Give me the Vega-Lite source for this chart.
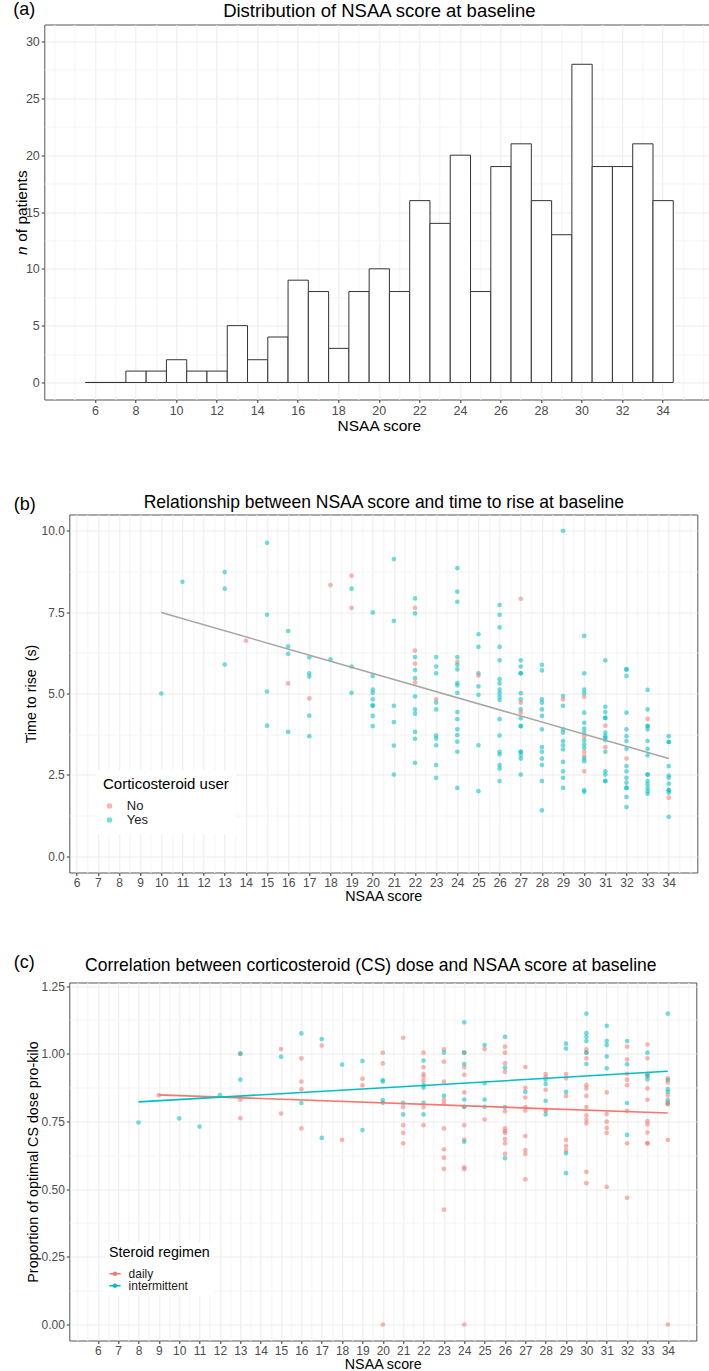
{
  "$schema": "https://vega.github.io/schema/vega-lite/v6.json",
  "background": "white",
  "padding": {"left": 5.3, "top": 0.5, "right": 0, "bottom": 0},
  "autosize": {"type": "pad"},
  "config": {
    "font": "Liberation Sans",
    "view": {"stroke": "#555555", "strokeWidth": 1},
    "axis": {"labelFont": "Liberation Sans", "labelFontSize": 12, "labelColor": "#4D4D4D", "labelPadding": 2, "tickColor": "#333333", "tickSize": 3, "tickWidth": 1, "domain": false, "titleFont": "Liberation Sans", "titleFontWeight": "normal", "titleColor": "#000000", "gridColor": "#EBEBEB", "gridWidth": 1},
    "title": {"font": "Liberation Sans", "fontWeight": "normal", "color": "#000000"},
    "legend": {"labelFont": "Liberation Sans", "titleFont": "Liberation Sans", "titleFontWeight": "normal", "titleColor": "#000000", "labelColor": "#1A1A1A"}
  },
  "resolve": {"scale": {"color": "independent"}, "legend": {"color": "independent"}},
  "columns": 1,
  "align": "none",
  "spacing": 49,
  "concat": [
    {
      "spacing": 0,
      "hconcat": [
        {"width": 1, "height": 1, "view": {"stroke": null}, "data": {"values": [{"k": 0}]}, "mark": {"type": "point", "opacity": 0}, "encoding": {}},
        {
          "width": 669,
          "height": 375,
          "title": {"text": "(a)", "anchor": "start", "frame": "group", "fontSize": 18, "baseline": "alphabetic", "dx": -31, "offset": -32},
          "data": {"values": [
            {"score": 6, "n": 0}, {"score": 7, "n": 0}, {"score": 8, "n": 1}, {"score": 9, "n": 1}, {"score": 10, "n": 2},
            {"score": 11, "n": 1}, {"score": 12, "n": 1}, {"score": 13, "n": 5}, {"score": 14, "n": 2}, {"score": 15, "n": 4},
            {"score": 16, "n": 9}, {"score": 17, "n": 8}, {"score": 18, "n": 3}, {"score": 19, "n": 8}, {"score": 20, "n": 10},
            {"score": 21, "n": 8}, {"score": 22, "n": 16}, {"score": 23, "n": 14}, {"score": 24, "n": 20}, {"score": 25, "n": 8},
            {"score": 26, "n": 19}, {"score": 27, "n": 21}, {"score": 28, "n": 16}, {"score": 29, "n": 13}, {"score": 30, "n": 28},
            {"score": 31, "n": 19}, {"score": 32, "n": 19}, {"score": 33, "n": 21}, {"score": 34, "n": 16}
          ]},
          "layer": [
            {
              "mark": {"type": "bar", "fill": "white", "stroke": "#333333", "strokeWidth": 1, "binSpacing": 0},
              "encoding": {
                "x": {"field": "score", "type": "quantitative", "bin": {"step": 1, "extent": [5.5, 34.5], "nice": false},
                  "scale": {"domain": [3.5, 36.5], "nice": false, "zero": false},
                  "axis": {"values": [6, 8, 10, 12, 14, 16, 18, 20, 22, 24, 26, 28, 30, 32, 34], "format": "d", "labelFontSize": 12.5, "grid": true,
                    "title": "NSAA score", "titleFontSize": 15.5, "titleX": 334.5, "titleY": 30.5, "titleAlign": "center", "titleBaseline": "alphabetic"}},
                "y": {"field": "n", "aggregate": "sum", "type": "quantitative",
                  "scale": {"domain": [-1.5, 31.5], "nice": false, "zero": false},
                  "axis": {"values": [0, 5, 10, 15, 20, 25, 30], "format": "d", "labelFontSize": 12.5, "grid": true,
                    "title": "of patients", "titleFontSize": 15.5, "titleAngle": 270, "titleX": -17.8, "titleY": 181.1, "titleAlign": "center", "titleBaseline": "alphabetic"}}
              }
            },
            {
              "mark": {"type": "point", "opacity": 0},
              "encoding": {
                "x": {"field": "score", "type": "quantitative", "scale": {"domain": [3.5, 36.5], "nice": false, "zero": false},
                  "axis": {"orient": "top", "values": [4, 5, 7, 9, 11, 13, 15, 17, 19, 21, 23, 25, 27, 29, 31, 33, 35, 36], "grid": true, "gridColor": "#F4F4F4", "labels": false, "ticks": false, "domain": false, "minExtent": 0, "maxExtent": 0,
                    "title": "Distribution of NSAA score at baseline", "titleFontSize": 18.5, "titleX": 334.5, "titleY": -8.5, "titleAlign": "center", "titleBaseline": "alphabetic", "titleAngle": 0}},
                "y": {"field": "n", "type": "quantitative", "scale": {"domain": [-1.5, 31.5], "nice": false, "zero": false},
                  "axis": {"orient": "right", "values": [2.5, 7.5, 12.5, 17.5, 22.5, 27.5], "grid": true, "gridColor": "#F4F4F4", "labels": false, "ticks": false, "domain": false, "minExtent": 0, "maxExtent": 0,
                    "title": "n", "titleFontStyle": "italic", "titleFontSize": 15.5, "titleAngle": 270, "titleX": -686.8, "titleY": 225.6, "titleAlign": "center", "titleBaseline": "alphabetic"}}
              }
            }
          ],
          "resolve": {"axis": {"x": "independent", "y": "independent"}}
        }
      ]
    },
    {
      "spacing": 0,
      "hconcat": [
        {"width": 1, "height": 1, "view": {"stroke": null}, "data": {"values": [{"k": 0}]}, "mark": {"type": "point", "opacity": 0}, "encoding": {}},
        {
          "width": 628,
          "height": 358,
          "title": {"text": " ", "anchor": "start", "frame": "group", "fontSize": 18, "baseline": "alphabetic", "offset": -22.8},
          "data": {"values": [
            {"s":10,"t":5.0,"u":"Yes"},{"s":11,"t":8.43,"u":"Yes"},
            {"s":13,"t":8.73,"u":"Yes"},{"s":13,"t":8.22,"u":"Yes"},{"s":13,"t":5.89,"u":"Yes"},
            {"s":14,"t":6.62,"u":"No"},
            {"s":15,"t":9.63,"u":"Yes"},{"s":15,"t":7.42,"u":"Yes"},{"s":15,"t":5.06,"u":"Yes"},{"s":15,"t":4.01,"u":"Yes"},
            {"s":16,"t":6.92,"u":"Yes"},{"s":16,"t":6.45,"u":"Yes"},{"s":16,"t":6.22,"u":"Yes"},{"s":16,"t":5.31,"u":"No"},{"s":16,"t":3.82,"u":"Yes"},
            {"s":17,"t":6.11,"u":"Yes"},{"s":17,"t":5.62,"u":"Yes"},{"s":17,"t":5.52,"u":"Yes"},{"s":17,"t":4.85,"u":"No"},{"s":17,"t":4.32,"u":"Yes"},{"s":17,"t":3.69,"u":"Yes"},
            {"s":18,"t":8.33,"u":"No"},{"s":18,"t":6.05,"u":"Yes"},
            {"s":19,"t":8.62,"u":"No"},{"s":19,"t":8.22,"u":"Yes"},{"s":19,"t":7.63,"u":"No"},{"s":19,"t":5.83,"u":"Yes"},{"s":19,"t":5.02,"u":"Yes"},
            {"s":20,"t":7.49,"u":"Yes"},{"s":20,"t":5.54,"u":"Yes"},{"s":20,"t":5.12,"u":"Yes"},{"s":20,"t":5.02,"u":"Yes"},{"s":20,"t":4.82,"u":"Yes"},{"s":20,"t":4.63,"u":"Yes"},{"s":20,"t":4.63,"u":"Yes"},{"s":20,"t":4.31,"u":"Yes"},{"s":20,"t":4.0,"u":"Yes"},
            {"s":21,"t":9.13,"u":"Yes"},{"s":21,"t":7.23,"u":"Yes"},{"s":21,"t":4.62,"u":"Yes"},{"s":21,"t":4.12,"u":"Yes"},{"s":21,"t":3.4,"u":"Yes"},{"s":21,"t":2.51,"u":"Yes"},
            {"s":22,"t":7.92,"u":"Yes"},{"s":22,"t":7.63,"u":"No"},{"s":22,"t":7.46,"u":"Yes"},{"s":22,"t":6.32,"u":"No"},{"s":22,"t":6.12,"u":"Yes"},{"s":22,"t":5.92,"u":"No"},{"s":22,"t":5.72,"u":"Yes"},{"s":22,"t":5.47,"u":"Yes"},{"s":22,"t":5.34,"u":"No"},{"s":22,"t":4.91,"u":"Yes"},{"s":22,"t":4.51,"u":"Yes"},{"s":22,"t":4.38,"u":"Yes"},{"s":22,"t":3.82,"u":"Yes"},{"s":22,"t":3.61,"u":"Yes"},{"s":22,"t":2.87,"u":"Yes"},
            {"s":23,"t":6.12,"u":"Yes"},{"s":23,"t":5.83,"u":"Yes"},{"s":23,"t":5.62,"u":"Yes"},{"s":23,"t":4.82,"u":"No"},{"s":23,"t":4.72,"u":"Yes"},{"s":23,"t":4.51,"u":"Yes"},{"s":23,"t":3.71,"u":"Yes"},{"s":23,"t":3.62,"u":"Yes"},{"s":23,"t":3.41,"u":"Yes"},{"s":23,"t":2.8,"u":"Yes"},{"s":23,"t":2.41,"u":"Yes"},
            {"s":24,"t":8.85,"u":"Yes"},{"s":24,"t":8.13,"u":"Yes"},{"s":24,"t":7.82,"u":"Yes"},{"s":24,"t":6.12,"u":"Yes"},{"s":24,"t":5.97,"u":"No"},{"s":24,"t":5.88,"u":"Yes"},{"s":24,"t":5.74,"u":"Yes"},{"s":24,"t":5.32,"u":"Yes"},{"s":24,"t":5.25,"u":"Yes"},{"s":24,"t":5.02,"u":"Yes"},{"s":24,"t":4.43,"u":"Yes"},{"s":24,"t":4.21,"u":"Yes"},{"s":24,"t":3.9,"u":"Yes"},{"s":24,"t":3.72,"u":"Yes"},{"s":24,"t":3.52,"u":"Yes"},{"s":24,"t":3.21,"u":"Yes"},{"s":24,"t":2.1,"u":"Yes"},
            {"s":25,"t":6.82,"u":"Yes"},{"s":25,"t":6.43,"u":"Yes"},{"s":25,"t":5.62,"u":"Yes"},{"s":25,"t":5.55,"u":"No"},{"s":25,"t":5.22,"u":"Yes"},{"s":25,"t":4.96,"u":"Yes"},{"s":25,"t":3.41,"u":"Yes"},{"s":25,"t":2.0,"u":"Yes"},
            {"s":26,"t":7.72,"u":"Yes"},{"s":26,"t":7.42,"u":"Yes"},{"s":26,"t":7.03,"u":"Yes"},{"s":26,"t":6.43,"u":"Yes"},{"s":26,"t":6.02,"u":"Yes"},{"s":26,"t":5.44,"u":"Yes"},{"s":26,"t":5.31,"u":"Yes"},{"s":26,"t":5.12,"u":"Yes"},{"s":26,"t":5.01,"u":"Yes"},{"s":26,"t":4.9,"u":"Yes"},{"s":26,"t":4.8,"u":"Yes"},{"s":26,"t":4.21,"u":"Yes"},{"s":26,"t":3.71,"u":"Yes"},{"s":26,"t":3.21,"u":"Yes"},{"s":26,"t":3.13,"u":"Yes"},{"s":26,"t":2.8,"u":"Yes"},{"s":26,"t":2.69,"u":"Yes"},{"s":26,"t":2.31,"u":"Yes"},
            {"s":27,"t":7.91,"u":"No"},{"s":27,"t":6.02,"u":"Yes"},{"s":27,"t":5.83,"u":"Yes"},{"s":27,"t":5.62,"u":"Yes"},{"s":27,"t":5.62,"u":"Yes"},{"s":27,"t":5.01,"u":"Yes"},{"s":27,"t":4.82,"u":"Yes"},{"s":27,"t":4.72,"u":"No"},{"s":27,"t":4.51,"u":"Yes"},{"s":27,"t":4.41,"u":"No"},{"s":27,"t":4.24,"u":"Yes"},{"s":27,"t":4.0,"u":"Yes"},{"s":27,"t":4.0,"u":"Yes"},{"s":27,"t":3.21,"u":"Yes"},{"s":27,"t":3.21,"u":"Yes"},{"s":27,"t":3.11,"u":"Yes"},{"s":27,"t":3.0,"u":"Yes"},{"s":27,"t":2.51,"u":"Yes"},
            {"s":28,"t":5.88,"u":"Yes"},{"s":28,"t":5.71,"u":"Yes"},{"s":28,"t":4.82,"u":"Yes"},{"s":28,"t":4.72,"u":"Yes"},{"s":28,"t":4.51,"u":"Yes"},{"s":28,"t":4.31,"u":"Yes"},{"s":28,"t":3.9,"u":"Yes"},{"s":28,"t":3.35,"u":"Yes"},{"s":28,"t":3.21,"u":"Yes"},{"s":28,"t":3.0,"u":"Yes"},{"s":28,"t":2.8,"u":"Yes"},{"s":28,"t":2.31,"u":"Yes"},{"s":28,"t":1.41,"u":"Yes"},
            {"s":29,"t":10.0,"u":"Yes"},{"s":29,"t":4.92,"u":"Yes"},{"s":29,"t":4.82,"u":"No"},{"s":29,"t":4.62,"u":"Yes"},{"s":29,"t":3.9,"u":"Yes"},{"s":29,"t":3.8,"u":"Yes"},{"s":29,"t":3.54,"u":"Yes"},{"s":29,"t":3.41,"u":"Yes"},{"s":29,"t":3.28,"u":"Yes"},{"s":29,"t":2.9,"u":"Yes"},{"s":29,"t":2.61,"u":"Yes"},{"s":29,"t":2.41,"u":"Yes"},{"s":29,"t":2.1,"u":"Yes"},
            {"s":30,"t":6.77,"u":"Yes"},{"s":30,"t":5.62,"u":"Yes"},{"s":30,"t":5.12,"u":"Yes"},{"s":30,"t":5.01,"u":"Yes"},{"s":30,"t":4.9,"u":"No"},{"s":30,"t":4.41,"u":"Yes"},{"s":30,"t":4.1,"u":"Yes"},{"s":30,"t":3.92,"u":"Yes"},{"s":30,"t":3.8,"u":"Yes"},{"s":30,"t":3.69,"u":"No"},{"s":30,"t":3.57,"u":"Yes"},{"s":30,"t":3.44,"u":"Yes"},{"s":30,"t":3.33,"u":"Yes"},{"s":30,"t":3.21,"u":"No"},{"s":30,"t":3.08,"u":"No"},{"s":30,"t":3.0,"u":"Yes"},{"s":30,"t":2.92,"u":"Yes"},{"s":30,"t":2.61,"u":"No"},{"s":30,"t":2.03,"u":"Yes"},{"s":30,"t":1.98,"u":"Yes"},
            {"s":31,"t":6.02,"u":"Yes"},{"s":31,"t":4.59,"u":"Yes"},{"s":31,"t":4.43,"u":"Yes"},{"s":31,"t":4.25,"u":"Yes"},{"s":31,"t":4.25,"u":"Yes"},{"s":31,"t":4.01,"u":"No"},{"s":31,"t":3.8,"u":"Yes"},{"s":31,"t":3.69,"u":"Yes"},{"s":31,"t":3.64,"u":"Yes"},{"s":31,"t":3.57,"u":"Yes"},{"s":31,"t":3.35,"u":"No"},{"s":31,"t":3.21,"u":"Yes"},{"s":31,"t":2.61,"u":"Yes"},{"s":31,"t":2.51,"u":"Yes"},{"s":31,"t":2.31,"u":"Yes"},{"s":31,"t":2.31,"u":"Yes"},
            {"s":32,"t":5.74,"u":"Yes"},{"s":32,"t":5.74,"u":"Yes"},{"s":32,"t":5.54,"u":"Yes"},{"s":32,"t":4.41,"u":"Yes"},{"s":32,"t":3.9,"u":"Yes"},{"s":32,"t":3.69,"u":"Yes"},{"s":32,"t":3.54,"u":"Yes"},{"s":32,"t":3.3,"u":"Yes"},{"s":32,"t":3.0,"u":"No"},{"s":32,"t":2.77,"u":"Yes"},{"s":32,"t":2.61,"u":"Yes"},{"s":32,"t":2.41,"u":"Yes"},{"s":32,"t":2.26,"u":"Yes"},{"s":32,"t":2.1,"u":"Yes"},{"s":32,"t":2.1,"u":"Yes"},{"s":32,"t":1.82,"u":"Yes"},{"s":32,"t":1.51,"u":"Yes"},
            {"s":33,"t":5.11,"u":"Yes"},{"s":33,"t":4.51,"u":"Yes"},{"s":33,"t":4.22,"u":"No"},{"s":33,"t":4.0,"u":"Yes"},{"s":33,"t":4.0,"u":"Yes"},{"s":33,"t":3.9,"u":"Yes"},{"s":33,"t":3.54,"u":"Yes"},{"s":33,"t":3.3,"u":"Yes"},{"s":33,"t":3.1,"u":"Yes"},{"s":33,"t":2.51,"u":"Yes"},{"s":33,"t":2.51,"u":"Yes"},{"s":33,"t":2.31,"u":"Yes"},{"s":33,"t":2.21,"u":"Yes"},{"s":33,"t":2.1,"u":"Yes"},{"s":33,"t":2.0,"u":"Yes"},{"s":33,"t":1.92,"u":"Yes"},
            {"s":34,"t":3.69,"u":"Yes"},{"s":34,"t":3.51,"u":"Yes"},{"s":34,"t":3.51,"u":"Yes"},{"s":34,"t":2.77,"u":"Yes"},{"s":34,"t":2.48,"u":"Yes"},{"s":34,"t":2.41,"u":"Yes"},{"s":34,"t":2.23,"u":"Yes"},{"s":34,"t":2.03,"u":"Yes"},{"s":34,"t":2.03,"u":"Yes"},{"s":34,"t":1.95,"u":"Yes"},{"s":34,"t":1.8,"u":"No"},{"s":34,"t":1.21,"u":"Yes"}
          ]},
          "layer": [
            {
              "mark": {"type": "circle", "size": 22, "opacity": 0.55},
              "encoding": {
                "x": {"field": "s", "type": "quantitative", "scale": {"domain": [5.65, 35.35], "nice": false, "zero": false},
                  "axis": {"values": [6,7,8,9,10,11,12,13,14,15,16,17,18,19,20,21,22,23,24,25,26,27,28,29,30,31,32,33,34], "format": "d", "grid": true,
                    "title": "NSAA score", "titleFontSize": 14.3, "titleX": 314, "titleY": 27.7, "titleAlign": "center", "titleBaseline": "alphabetic"}},
                "y": {"field": "t", "type": "quantitative", "scale": {"domain": [-0.5, 10.5], "nice": false, "zero": false},
                  "axis": {"values": [0, 2.5, 5, 7.5, 10], "format": ".1f", "grid": true,
                    "title": "Time to rise\u00a0 (s)", "titleFontSize": 14.3, "titleAngle": 270, "titleX": -33.5, "titleY": 179, "titleAlign": "center", "titleBaseline": "alphabetic"}},
                "color": {"field": "u", "type": "nominal", "scale": {"domain": ["No", "Yes"], "range": ["#F8766D", "#00BFC4"]},
                  "legend": {"orient": "none", "legendX": 87.7, "legendY": 255.5, "title": "Corticosteroid user", "titleFontSize": 15, "labelFontSize": 13, "fillColor": "white", "padding": 7, "symbolType": "circle", "symbolSize": 30, "symbolOpacity": 0.55, "symbolStrokeWidth": 0, "rowPadding": 0, "titlePadding": 7.5, "labelOffset": 10.8}}
              }
            },
            {
              "data": {"values": [{"s": 10, "t": 7.49}, {"s": 34, "t": 3.0}]},
              "mark": {"type": "line", "color": "#A6A6A6", "strokeWidth": 1.5},
              "encoding": {
                "x": {"field": "s", "type": "quantitative", "scale": {"domain": [5.65, 35.35], "nice": false, "zero": false}, "axis": null},
                "y": {"field": "t", "type": "quantitative", "scale": {"domain": [-0.5, 10.5], "nice": false, "zero": false}, "axis": null}
              }
            },
            {
              "mark": {"type": "point", "opacity": 0},
              "encoding": {
                "x": {"field": "s", "type": "quantitative", "scale": {"domain": [5.65, 35.35], "nice": false, "zero": false},
                  "axis": {"orient": "top", "values": [6.5,7.5,8.5,9.5,10.5,11.5,12.5,13.5,14.5,15.5,16.5,17.5,18.5,19.5,20.5,21.5,22.5,23.5,24.5,25.5,26.5,27.5,28.5,29.5,30.5,31.5,32.5,33.5,34.5,35], "grid": true, "gridColor": "#F4F4F4", "labels": false, "ticks": false, "domain": false, "minExtent": 0, "maxExtent": 0,
                    "title": "Relationship between NSAA score and time to rise at baseline", "titleFontSize": 17.5, "titleX": 314, "titleY": -6.8, "titleAlign": "center", "titleBaseline": "alphabetic", "titleAngle": 0}},
                "y": {"field": "t", "type": "quantitative", "scale": {"domain": [-0.5, 10.5], "nice": false, "zero": false},
                  "axis": {"orient": "right", "values": [1.25, 3.75, 6.25, 8.75], "grid": true, "gridColor": "#F4F4F4", "labels": false, "ticks": false, "domain": false, "minExtent": 0, "maxExtent": 0,
                    "title": "(b)", "titleFontSize": 18, "titleAngle": 0, "titleX": -684, "titleY": -4.6, "titleAlign": "left", "titleBaseline": "alphabetic"}}
              }
            }
          ],
          "resolve": {"axis": {"x": "independent", "y": "independent"}}
        }
      ]
    },
    {
      "spacing": 0,
      "hconcat": [
        {"width": 1, "height": 1, "view": {"stroke": null}, "data": {"values": [{"k": 0}]}, "mark": {"type": "point", "opacity": 0}, "encoding": {}},
        {
          "width": 627,
          "height": 358,
          "data": {"values": [
            {"s":8,"p":0.746,"r":"intermittent"},{"s":9,"p":0.847,"r":"daily"},{"s":10,"p":0.761,"r":"intermittent"},{"s":11,"p":0.731,"r":"intermittent"},{"s":12,"p":0.847,"r":"intermittent"},
            {"s":13,"p":1.0,"r":"daily"},{"s":13,"p":1.0,"r":"intermittent"},{"s":13,"p":0.904,"r":"intermittent"},{"s":13,"p":0.83,"r":"daily"},{"s":13,"p":0.762,"r":"daily"},
            {"s":15,"p":1.017,"r":"daily"},{"s":15,"p":0.989,"r":"intermittent"},{"s":15,"p":0.779,"r":"daily"},
            {"s":16,"p":1.075,"r":"intermittent"},{"s":16,"p":0.983,"r":"daily"},{"s":16,"p":0.897,"r":"daily"},{"s":16,"p":0.869,"r":"daily"},{"s":16,"p":0.818,"r":"intermittent"},{"s":16,"p":0.724,"r":"daily"},
            {"s":17,"p":1.054,"r":"intermittent"},{"s":17,"p":1.03,"r":"daily"},{"s":17,"p":0.689,"r":"intermittent"},
            {"s":18,"p":0.96,"r":"intermittent"},{"s":18,"p":0.682,"r":"daily"},
            {"s":19,"p":0.973,"r":"intermittent"},{"s":19,"p":0.908,"r":"daily"},{"s":19,"p":0.883,"r":"daily"},{"s":19,"p":0.718,"r":"intermittent"},
            {"s":20,"p":1.004,"r":"daily"},{"s":20,"p":0.964,"r":"daily"},{"s":20,"p":0.903,"r":"intermittent"},{"s":20,"p":0.897,"r":"intermittent"},{"s":20,"p":0.829,"r":"intermittent"},{"s":20,"p":0.819,"r":"intermittent"},{"s":20,"p":0.0,"r":"daily"},
            {"s":21,"p":1.059,"r":"daily"},{"s":21,"p":0.819,"r":"intermittent"},{"s":21,"p":0.803,"r":"daily"},{"s":21,"p":0.776,"r":"intermittent"},{"s":21,"p":0.736,"r":"daily"},{"s":21,"p":0.708,"r":"daily"},{"s":21,"p":0.669,"r":"daily"},
            {"s":22,"p":1.004,"r":"daily"},{"s":22,"p":0.975,"r":"intermittent"},{"s":22,"p":0.95,"r":"daily"},{"s":22,"p":0.925,"r":"daily"},{"s":22,"p":0.915,"r":"daily"},{"s":22,"p":0.9,"r":"daily"},{"s":22,"p":0.884,"r":"intermittent"},{"s":22,"p":0.875,"r":"intermittent"},{"s":22,"p":0.819,"r":"intermittent"},{"s":22,"p":0.803,"r":"daily"},{"s":22,"p":0.776,"r":"intermittent"},{"s":22,"p":0.736,"r":"daily"},
            {"s":23,"p":1.016,"r":"daily"},{"s":23,"p":1.004,"r":"intermittent"},{"s":23,"p":0.971,"r":"daily"},{"s":23,"p":0.897,"r":"daily"},{"s":23,"p":0.844,"r":"intermittent"},{"s":23,"p":0.829,"r":"daily"},{"s":23,"p":0.816,"r":"daily"},{"s":23,"p":0.724,"r":"daily"},{"s":23,"p":0.647,"r":"daily"},{"s":23,"p":0.616,"r":"daily"},{"s":23,"p":0.575,"r":"daily"},{"s":23,"p":0.424,"r":"daily"},
            {"s":24,"p":1.116,"r":"intermittent"},{"s":24,"p":1.004,"r":"daily"},{"s":24,"p":1.004,"r":"intermittent"},{"s":24,"p":0.962,"r":"intermittent"},{"s":24,"p":0.95,"r":"daily"},{"s":24,"p":0.922,"r":"daily"},{"s":24,"p":0.857,"r":"daily"},{"s":24,"p":0.831,"r":"intermittent"},{"s":24,"p":0.804,"r":"daily"},{"s":24,"p":0.804,"r":"intermittent"},{"s":24,"p":0.736,"r":"daily"},{"s":24,"p":0.683,"r":"daily"},{"s":24,"p":0.675,"r":"intermittent"},{"s":24,"p":0.58,"r":"daily"},{"s":24,"p":0.574,"r":"daily"},{"s":24,"p":0.0,"r":"daily"},
            {"s":25,"p":1.032,"r":"intermittent"},{"s":25,"p":1.017,"r":"daily"},{"s":25,"p":0.891,"r":"intermittent"},{"s":25,"p":0.831,"r":"intermittent"},{"s":25,"p":0.804,"r":"intermittent"},{"s":25,"p":0.757,"r":"daily"},
            {"s":26,"p":1.062,"r":"intermittent"},{"s":26,"p":1.026,"r":"daily"},{"s":26,"p":1.004,"r":"daily"},{"s":26,"p":0.964,"r":"daily"},{"s":26,"p":0.948,"r":"intermittent"},{"s":26,"p":0.933,"r":"daily"},{"s":26,"p":0.803,"r":"intermittent"},{"s":26,"p":0.788,"r":"daily"},{"s":26,"p":0.724,"r":"daily"},{"s":26,"p":0.714,"r":"daily"},{"s":26,"p":0.708,"r":"daily"},{"s":26,"p":0.685,"r":"daily"},{"s":26,"p":0.669,"r":"daily"},{"s":26,"p":0.63,"r":"daily"},{"s":26,"p":0.614,"r":"intermittent"},
            {"s":27,"p":0.951,"r":"daily"},{"s":27,"p":0.874,"r":"daily"},{"s":27,"p":0.859,"r":"intermittent"},{"s":27,"p":0.838,"r":"daily"},{"s":27,"p":0.803,"r":"daily"},{"s":27,"p":0.79,"r":"daily"},{"s":27,"p":0.696,"r":"daily"},{"s":27,"p":0.644,"r":"daily"},{"s":27,"p":0.63,"r":"daily"},{"s":27,"p":0.536,"r":"daily"},
            {"s":28,"p":0.925,"r":"daily"},{"s":28,"p":0.914,"r":"daily"},{"s":28,"p":0.904,"r":"intermittent"},{"s":28,"p":0.888,"r":"intermittent"},{"s":28,"p":0.867,"r":"daily"},{"s":28,"p":0.826,"r":"intermittent"},{"s":28,"p":0.793,"r":"daily"},{"s":28,"p":0.789,"r":"daily"},{"s":28,"p":0.776,"r":"intermittent"},
            {"s":29,"p":1.037,"r":"intermittent"},{"s":29,"p":1.019,"r":"intermittent"},{"s":29,"p":0.925,"r":"daily"},{"s":29,"p":0.909,"r":"daily"},{"s":29,"p":0.859,"r":"intermittent"},{"s":29,"p":0.844,"r":"daily"},{"s":29,"p":0.682,"r":"daily"},{"s":29,"p":0.659,"r":"daily"},{"s":29,"p":0.643,"r":"daily"},{"s":29,"p":0.632,"r":"intermittent"},{"s":29,"p":0.559,"r":"intermittent"},
            {"s":30,"p":1.148,"r":"intermittent"},{"s":30,"p":1.076,"r":"intermittent"},{"s":30,"p":1.062,"r":"intermittent"},{"s":30,"p":1.047,"r":"intermittent"},{"s":30,"p":1.016,"r":"daily"},{"s":30,"p":1.004,"r":"daily"},{"s":30,"p":1.004,"r":"intermittent"},{"s":30,"p":0.983,"r":"daily"},{"s":30,"p":0.962,"r":"intermittent"},{"s":30,"p":0.884,"r":"daily"},{"s":30,"p":0.872,"r":"daily"},{"s":30,"p":0.844,"r":"daily"},{"s":30,"p":0.803,"r":"daily"},{"s":30,"p":0.772,"r":"daily"},{"s":30,"p":0.756,"r":"daily"},{"s":30,"p":0.743,"r":"daily"},{"s":30,"p":0.564,"r":"daily"},{"s":30,"p":0.522,"r":"daily"},
            {"s":31,"p":1.103,"r":"intermittent"},{"s":31,"p":1.047,"r":"intermittent"},{"s":31,"p":1.032,"r":"intermittent"},{"s":31,"p":0.99,"r":"intermittent"},{"s":31,"p":0.946,"r":"intermittent"},{"s":31,"p":0.857,"r":"daily"},{"s":31,"p":0.777,"r":"daily"},{"s":31,"p":0.749,"r":"daily"},{"s":31,"p":0.726,"r":"daily"},{"s":31,"p":0.708,"r":"daily"},{"s":31,"p":0.508,"r":"daily"},
            {"s":32,"p":1.047,"r":"intermittent"},{"s":32,"p":1.026,"r":"daily"},{"s":32,"p":0.979,"r":"daily"},{"s":32,"p":0.961,"r":"intermittent"},{"s":32,"p":0.926,"r":"daily"},{"s":32,"p":0.904,"r":"daily"},{"s":32,"p":0.884,"r":"daily"},{"s":32,"p":0.818,"r":"intermittent"},{"s":32,"p":0.789,"r":"daily"},{"s":32,"p":0.7,"r":"intermittent"},{"s":32,"p":0.669,"r":"daily"},{"s":32,"p":0.468,"r":"daily"},
            {"s":33,"p":1.034,"r":"daily"},{"s":33,"p":1.004,"r":"intermittent"},{"s":33,"p":0.983,"r":"daily"},{"s":33,"p":0.926,"r":"intermittent"},{"s":33,"p":0.918,"r":"daily"},{"s":33,"p":0.918,"r":"intermittent"},{"s":33,"p":0.905,"r":"intermittent"},{"s":33,"p":0.872,"r":"daily"},{"s":33,"p":0.83,"r":"daily"},{"s":33,"p":0.751,"r":"daily"},{"s":33,"p":0.739,"r":"daily"},{"s":33,"p":0.709,"r":"daily"},{"s":33,"p":0.669,"r":"daily"},{"s":33,"p":0.669,"r":"daily"},
            {"s":34,"p":1.148,"r":"intermittent"},{"s":34,"p":0.909,"r":"daily"},{"s":34,"p":0.903,"r":"intermittent"},{"s":34,"p":0.894,"r":"daily"},{"s":34,"p":0.869,"r":"intermittent"},{"s":34,"p":0.859,"r":"intermittent"},{"s":34,"p":0.846,"r":"daily"},{"s":34,"p":0.829,"r":"intermittent"},{"s":34,"p":0.82,"r":"daily"},{"s":34,"p":0.816,"r":"intermittent"},{"s":34,"p":0.813,"r":"daily"},{"s":34,"p":0.682,"r":"daily"},{"s":34,"p":0.0,"r":"daily"}
          ]},
          "layer": [
            {
              "mark": {"type": "circle", "size": 22, "opacity": 0.55},
              "encoding": {
                "x": {"field": "s", "type": "quantitative", "scale": {"domain": [4.6, 35.4], "nice": false, "zero": false},
                  "axis": {"values": [6,7,8,9,10,11,12,13,14,15,16,17,18,19,20,21,22,23,24,25,26,27,28,29,30,31,32,33,34], "format": "d", "grid": true,
                    "title": "NSAA score", "titleFontSize": 14.3, "titleX": 313.5, "titleY": 28.1, "titleAlign": "center", "titleBaseline": "alphabetic"}},
                "y": {"field": "p", "type": "quantitative", "scale": {"domain": [-0.059, 1.263], "nice": false, "zero": false},
                  "axis": {"values": [0, 0.25, 0.5, 0.75, 1.0, 1.25], "format": ".2f", "grid": true,
                    "title": "Proportion of optimal CS dose pro-kilo", "titleFontSize": 14.3, "titleAngle": 270, "titleX": -32, "titleY": 179, "titleAlign": "center", "titleBaseline": "alphabetic"}},
                "color": {"field": "r", "type": "nominal", "scale": {"domain": ["daily", "intermittent"], "range": ["#F8766D", "#00BFC4"]},
                  "legend": {"orient": "none", "legendX": 96.7, "legendY": 259.3, "title": "Steroid regimen", "titleFontSize": 14.3, "labelFontSize": 12, "fillColor": "white", "padding": 4, "symbolType": "M-1,-0.12L1,-0.12L1,0.12L-1,0.12Z M0.4,0A0.4,0.4,0,1,1,-0.4,0A0.4,0.4,0,1,1,0.4,0Z", "symbolSize": 130, "symbolOpacity": 1, "symbolStrokeWidth": 0, "rowPadding": 0, "titlePadding": 7.7, "labelOffset": 7.6}}
              }
            },
            {
              "data": {"values": [
                {"s": 9, "p": 0.848, "r": "daily"}, {"s": 34, "p": 0.781, "r": "daily"},
                {"s": 8, "p": 0.822, "r": "intermittent"}, {"s": 34, "p": 0.935, "r": "intermittent"}
              ]},
              "mark": {"type": "line", "strokeWidth": 1.6},
              "encoding": {
                "x": {"field": "s", "type": "quantitative", "scale": {"domain": [4.6, 35.4], "nice": false, "zero": false}, "axis": null},
                "y": {"field": "p", "type": "quantitative", "scale": {"domain": [-0.059, 1.263], "nice": false, "zero": false}, "axis": null},
                "color": {"field": "r", "type": "nominal", "scale": {"domain": ["daily", "intermittent"], "range": ["#F8766D", "#00BFC4"]}, "legend": null}
              }
            },
            {
              "mark": {"type": "point", "opacity": 0},
              "encoding": {
                "x": {"field": "s", "type": "quantitative", "scale": {"domain": [4.6, 35.4], "nice": false, "zero": false},
                  "axis": {"orient": "top", "values": [5,5.5,6.5,7.5,8.5,9.5,10.5,11.5,12.5,13.5,14.5,15.5,16.5,17.5,18.5,19.5,20.5,21.5,22.5,23.5,24.5,25.5,26.5,27.5,28.5,29.5,30.5,31.5,32.5,33.5,34.5,35], "grid": true, "gridColor": "#F4F4F4", "labels": false, "ticks": false, "domain": false, "minExtent": 0, "maxExtent": 0,
                    "title": "Correlation between corticosteroid (CS) dose and NSAA score at baseline", "titleFontSize": 17.5, "titleX": 301, "titleY": -12.4, "titleAlign": "center", "titleBaseline": "alphabetic", "titleAngle": 0}},
                "y": {"field": "p", "type": "quantitative", "scale": {"domain": [-0.059, 1.263], "nice": false, "zero": false},
                  "axis": {"orient": "right", "values": [0.125, 0.375, 0.625, 0.875, 1.125], "grid": true, "gridColor": "#F4F4F4", "labels": false, "ticks": false, "domain": false, "minExtent": 0, "maxExtent": 0,
                    "title": "(c)", "titleFontSize": 18, "titleAngle": 0, "titleX": -683, "titleY": -14.5, "titleAlign": "left", "titleBaseline": "alphabetic"}}
              }
            }
          ],
          "resolve": {"axis": {"x": "independent", "y": "independent"}}
        }
      ]
    }
  ]
}
